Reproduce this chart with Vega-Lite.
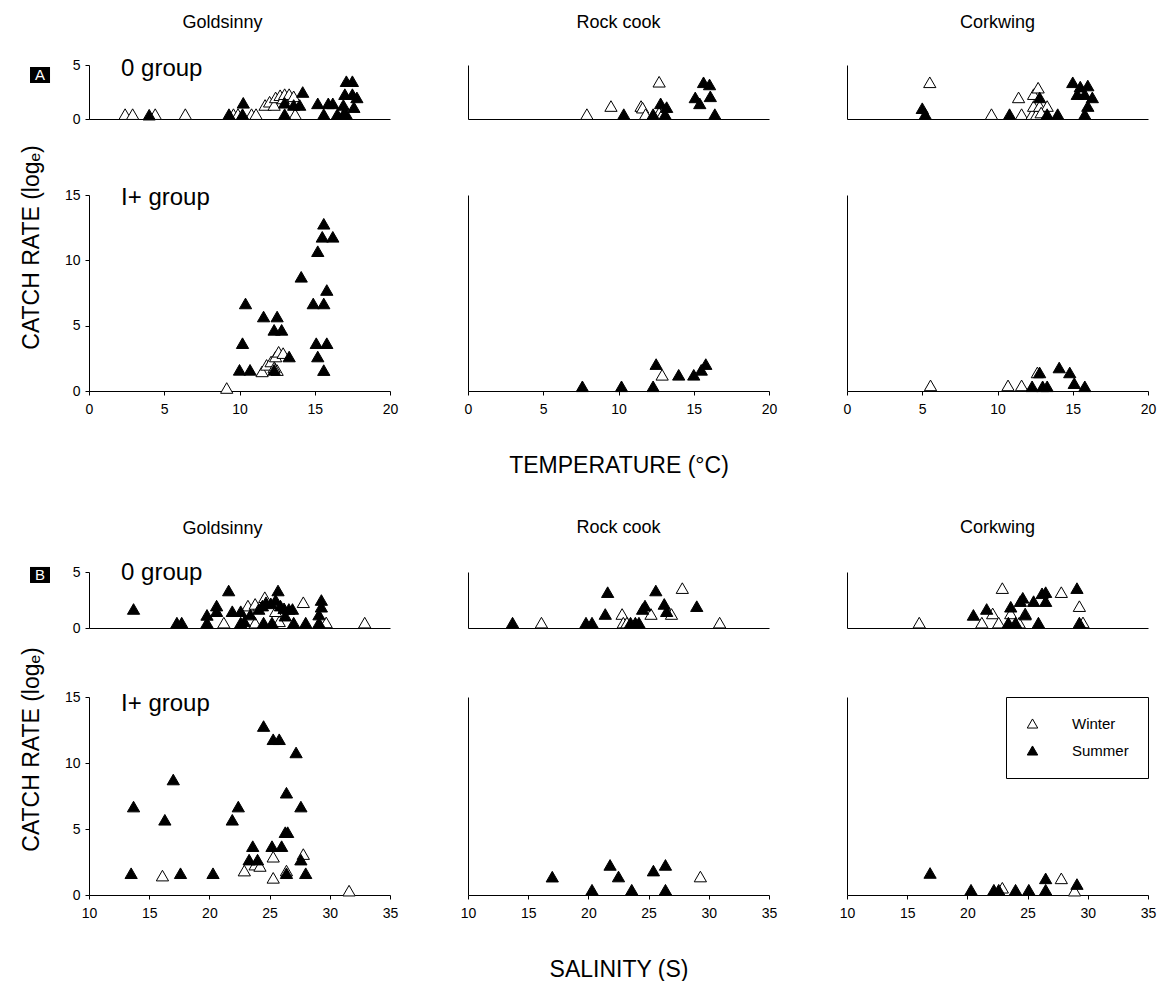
{
  "$schema": "https://vega.github.io/schema/vega-lite/v6.json",
  "background": "white",
  "padding": {"left": 20, "top": 14, "right": 10, "bottom": 0},
  "config": {
    "font": "Liberation Sans",
    "view": {"stroke": null},
    "axis": {"grid": false, "domainColor": "black", "domainWidth": 1, "tickColor": "black", "tickSize": 4, "labelColor": "black", "labelFontSize": 14, "labelFont": "Liberation Sans", "labelPadding": 5, "titleFont": "Liberation Sans", "titleFontWeight": "normal", "titleColor": "black", "titleFontSize": 23},
    "axisX": {"labelPadding": 7, "labelFlush": false},
    "title": {"fontSize": 18, "fontWeight": "normal", "font": "Liberation Sans", "color": "black", "frame": "group", "anchor": "middle"},
    "point": {"shape": "triangle-up", "size": 150, "filled": true, "opacity": 1, "stroke": "black", "strokeWidth": 1},
    "text": {"font": "Liberation Sans", "color": "black"}
  },
  "datasets": {
    "a0g": [
      {"season":"Winter","env":2.4,"rate":0.45},{"season":"Winter","env":2.9,"rate":0.45},{"season":"Winter","env":4.4,"rate":0.45},{"season":"Winter","env":6.4,"rate":0.45},{"season":"Winter","env":9.6,"rate":0.45},{"season":"Winter","env":9.9,"rate":0.45},{"season":"Winter","env":10.8,"rate":0.45},{"season":"Winter","env":11.1,"rate":0.45},{"season":"Winter","env":11.7,"rate":1.3},{"season":"Winter","env":12.0,"rate":1.6},{"season":"Winter","env":12.3,"rate":1.3},{"season":"Winter","env":12.4,"rate":2.0},{"season":"Winter","env":12.7,"rate":2.2},{"season":"Winter","env":12.9,"rate":1.9},{"season":"Winter","env":13.0,"rate":2.3},{"season":"Winter","env":13.3,"rate":2.3},{"season":"Winter","env":13.6,"rate":2.1},{"season":"Winter","env":13.7,"rate":0.45},
      {"season":"Summer","env":4.0,"rate":0.4},{"season":"Summer","env":9.3,"rate":0.45},{"season":"Summer","env":10.2,"rate":0.45},{"season":"Summer","env":10.25,"rate":1.5},{"season":"Summer","env":13.0,"rate":1.5},{"season":"Summer","env":13.0,"rate":0.45},{"season":"Summer","env":13.6,"rate":1.3},{"season":"Summer","env":14.0,"rate":1.3},{"season":"Summer","env":14.2,"rate":2.5},{"season":"Summer","env":15.2,"rate":1.45},{"season":"Summer","env":15.6,"rate":0.45},{"season":"Summer","env":15.9,"rate":1.45},{"season":"Summer","env":16.2,"rate":1.45},{"season":"Summer","env":16.5,"rate":0.45},{"season":"Summer","env":16.9,"rate":0.45},{"season":"Summer","env":16.9,"rate":1.3},{"season":"Summer","env":17.0,"rate":2.3},{"season":"Summer","env":17.1,"rate":0.45},{"season":"Summer","env":17.1,"rate":3.5},{"season":"Summer","env":17.5,"rate":3.5},{"season":"Summer","env":17.5,"rate":2.3},{"season":"Summer","env":17.6,"rate":1.1},{"season":"Summer","env":17.8,"rate":2.0}
    ],
    "a0r": [
      {"season":"Winter","env":7.9,"rate":0.45},{"season":"Winter","env":9.5,"rate":1.2},{"season":"Winter","env":11.5,"rate":1.2},{"season":"Winter","env":11.6,"rate":1.05},{"season":"Winter","env":11.8,"rate":0.45},{"season":"Winter","env":12.7,"rate":3.45},{"season":"Winter","env":12.7,"rate":0.6},{"season":"Winter","env":12.9,"rate":0.45},
      {"season":"Summer","env":10.35,"rate":0.45},{"season":"Summer","env":12.3,"rate":0.45},{"season":"Summer","env":12.8,"rate":1.45},{"season":"Summer","env":13.2,"rate":1.1},{"season":"Summer","env":13.1,"rate":0.45},{"season":"Summer","env":15.65,"rate":3.4},{"season":"Summer","env":16.05,"rate":3.2},{"season":"Summer","env":15.1,"rate":2.0},{"season":"Summer","env":16.1,"rate":2.1},{"season":"Summer","env":15.4,"rate":1.45},{"season":"Summer","env":16.4,"rate":0.45}
    ],
    "a0c": [
      {"season":"Winter","env":5.5,"rate":3.4},{"season":"Winter","env":9.6,"rate":0.45},{"season":"Winter","env":11.4,"rate":2.0},{"season":"Winter","env":11.6,"rate":0.45},{"season":"Winter","env":12.3,"rate":0.45},{"season":"Winter","env":12.6,"rate":0.45},{"season":"Winter","env":12.4,"rate":2.3},{"season":"Winter","env":12.7,"rate":2.9},{"season":"Winter","env":12.4,"rate":1.2},{"season":"Winter","env":12.8,"rate":1.2},{"season":"Winter","env":13.3,"rate":1.2},{"season":"Winter","env":12.9,"rate":0.6},
      {"season":"Summer","env":5.0,"rate":1.0},{"season":"Summer","env":5.2,"rate":0.45},{"season":"Summer","env":10.8,"rate":0.45},{"season":"Summer","env":12.8,"rate":2.0},{"season":"Summer","env":13.3,"rate":0.45},{"season":"Summer","env":14.0,"rate":0.45},{"season":"Summer","env":15.0,"rate":3.4},{"season":"Summer","env":15.5,"rate":3.0},{"season":"Summer","env":16.0,"rate":3.1},{"season":"Summer","env":15.3,"rate":2.3},{"season":"Summer","env":15.8,"rate":2.3},{"season":"Summer","env":16.3,"rate":2.0},{"season":"Summer","env":16.0,"rate":1.2},{"season":"Summer","env":15.8,"rate":0.45}
    ],
    "aig": [
      {"season":"Winter","env":9.15,"rate":0.23},{"season":"Winter","env":11.5,"rate":1.5},{"season":"Winter","env":11.8,"rate":2.0},{"season":"Winter","env":12.1,"rate":2.26},{"season":"Winter","env":12.4,"rate":2.64},{"season":"Winter","env":12.6,"rate":3.0},{"season":"Winter","env":12.9,"rate":2.9},{"season":"Winter","env":12.5,"rate":1.6},{"season":"Winter","env":12.3,"rate":1.8},
      {"season":"Summer","env":10.0,"rate":1.62},{"season":"Summer","env":10.7,"rate":1.62},{"season":"Summer","env":10.2,"rate":3.66},{"season":"Summer","env":10.4,"rate":6.7},{"season":"Summer","env":11.6,"rate":5.7},{"season":"Summer","env":12.5,"rate":5.7},{"season":"Summer","env":12.3,"rate":4.68},{"season":"Summer","env":12.8,"rate":4.68},{"season":"Summer","env":12.3,"rate":1.62},{"season":"Summer","env":13.3,"rate":2.64},{"season":"Summer","env":14.1,"rate":8.74},{"season":"Summer","env":14.9,"rate":6.7},{"season":"Summer","env":15.6,"rate":6.7},{"season":"Summer","env":15.8,"rate":7.73},{"season":"Summer","env":15.1,"rate":3.66},{"season":"Summer","env":15.8,"rate":3.66},{"season":"Summer","env":15.2,"rate":2.64},{"season":"Summer","env":15.6,"rate":1.6},{"season":"Summer","env":15.2,"rate":10.7},{"season":"Summer","env":15.5,"rate":11.8},{"season":"Summer","env":16.2,"rate":11.8},{"season":"Summer","env":15.6,"rate":12.8}
    ],
    "air": [
      {"season":"Winter","env":12.9,"rate":1.24},
      {"season":"Summer","env":7.6,"rate":0.36},{"season":"Summer","env":10.2,"rate":0.36},{"season":"Summer","env":12.3,"rate":0.36},{"season":"Summer","env":12.5,"rate":2.06},{"season":"Summer","env":14.0,"rate":1.24},{"season":"Summer","env":15.0,"rate":1.24},{"season":"Summer","env":15.5,"rate":1.62},{"season":"Summer","env":15.8,"rate":2.06}
    ],
    "aic": [
      {"season":"Winter","env":5.55,"rate":0.43},{"season":"Winter","env":10.7,"rate":0.43},{"season":"Winter","env":11.6,"rate":0.43},{"season":"Winter","env":12.65,"rate":1.42},
      {"season":"Summer","env":12.3,"rate":0.36},{"season":"Summer","env":13.0,"rate":0.36},{"season":"Summer","env":13.3,"rate":0.36},{"season":"Summer","env":12.8,"rate":1.42},{"season":"Summer","env":14.1,"rate":1.8},{"season":"Summer","env":14.8,"rate":1.42},{"season":"Summer","env":15.1,"rate":0.6},{"season":"Summer","env":15.8,"rate":0.36}
    ],
    "b0g": [
      {"season":"Winter","env":21.2,"rate":0.48},{"season":"Winter","env":23.2,"rate":2.0},{"season":"Winter","env":23.8,"rate":2.15},{"season":"Winter","env":24.6,"rate":2.75},{"season":"Winter","env":25.5,"rate":1.5},{"season":"Winter","env":25.8,"rate":0.6},{"season":"Winter","env":23.8,"rate":0.48},{"season":"Winter","env":27.8,"rate":2.3},{"season":"Winter","env":29.7,"rate":0.5},{"season":"Winter","env":32.9,"rate":0.48},
      {"season":"Summer","env":13.7,"rate":1.7},{"season":"Summer","env":17.3,"rate":0.48},{"season":"Summer","env":17.7,"rate":0.48},{"season":"Summer","env":19.8,"rate":0.48},{"season":"Summer","env":19.8,"rate":1.17},{"season":"Summer","env":20.6,"rate":2.0},{"season":"Summer","env":20.6,"rate":1.5},{"season":"Summer","env":21.6,"rate":3.35},{"season":"Summer","env":21.9,"rate":1.5},{"season":"Summer","env":22.6,"rate":1.5},{"season":"Summer","env":22.6,"rate":0.48},{"season":"Summer","env":22.9,"rate":0.6},{"season":"Summer","env":23.4,"rate":1.2},{"season":"Summer","env":24.1,"rate":1.7},{"season":"Summer","env":24.4,"rate":2.0},{"season":"Summer","env":24.7,"rate":2.3},{"season":"Summer","env":25.1,"rate":2.2},{"season":"Summer","env":25.5,"rate":2.5},{"season":"Summer","env":25.7,"rate":3.35},{"season":"Summer","env":25.9,"rate":2.0},{"season":"Summer","env":26.2,"rate":1.76},{"season":"Summer","env":26.6,"rate":1.7},{"season":"Summer","env":26.9,"rate":1.7},{"season":"Summer","env":24.5,"rate":0.48},{"season":"Summer","env":25.2,"rate":0.48},{"season":"Summer","env":26.3,"rate":1.1},{"season":"Summer","env":27.0,"rate":0.48},{"season":"Summer","env":28.0,"rate":0.48},{"season":"Summer","env":29.3,"rate":2.5},{"season":"Summer","env":29.3,"rate":1.9},{"season":"Summer","env":29.1,"rate":1.2},{"season":"Summer","env":29.1,"rate":0.48}
    ],
    "b0r": [
      {"season":"Winter","env":16.1,"rate":0.48},{"season":"Winter","env":22.8,"rate":1.25},{"season":"Winter","env":22.9,"rate":0.48},{"season":"Winter","env":23.2,"rate":0.48},{"season":"Winter","env":25.2,"rate":1.25},{"season":"Winter","env":26.9,"rate":1.25},{"season":"Winter","env":27.8,"rate":3.56},{"season":"Winter","env":30.9,"rate":0.48},
      {"season":"Summer","env":13.7,"rate":0.48},{"season":"Summer","env":19.8,"rate":0.48},{"season":"Summer","env":20.3,"rate":0.48},{"season":"Summer","env":21.4,"rate":1.25},{"season":"Summer","env":21.6,"rate":3.2},{"season":"Summer","env":23.5,"rate":0.48},{"season":"Summer","env":23.9,"rate":0.48},{"season":"Summer","env":24.2,"rate":0.48},{"season":"Summer","env":24.5,"rate":1.7},{"season":"Summer","env":24.7,"rate":2.0},{"season":"Summer","env":25.6,"rate":3.35},{"season":"Summer","env":26.3,"rate":2.15},{"season":"Summer","env":26.5,"rate":1.5},{"season":"Summer","env":29.0,"rate":1.95}
    ],
    "b0c": [
      {"season":"Winter","env":16.0,"rate":0.48},{"season":"Winter","env":22.9,"rate":3.56},{"season":"Winter","env":21.2,"rate":0.48},{"season":"Winter","env":22.1,"rate":1.3},{"season":"Winter","env":22.6,"rate":0.48},{"season":"Winter","env":23.6,"rate":1.3},{"season":"Winter","env":24.8,"rate":1.3},{"season":"Winter","env":24.3,"rate":0.48},{"season":"Winter","env":27.8,"rate":3.2},{"season":"Winter","env":29.3,"rate":1.95},{"season":"Winter","env":29.6,"rate":0.5},
      {"season":"Summer","env":20.5,"rate":1.17},{"season":"Summer","env":21.6,"rate":1.7},{"season":"Summer","env":23.6,"rate":1.9},{"season":"Summer","env":24.4,"rate":2.4},{"season":"Summer","env":24.6,"rate":2.7},{"season":"Summer","env":25.5,"rate":2.4},{"season":"Summer","env":26.2,"rate":3.1},{"season":"Summer","env":26.5,"rate":3.2},{"season":"Summer","env":26.5,"rate":2.4},{"season":"Summer","env":24.8,"rate":1.2},{"season":"Summer","env":23.4,"rate":0.48},{"season":"Summer","env":24.0,"rate":0.48},{"season":"Summer","env":25.9,"rate":0.48},{"season":"Summer","env":29.1,"rate":3.56},{"season":"Summer","env":29.3,"rate":0.48}
    ],
    "big": [
      {"season":"Winter","env":16.1,"rate":1.47},{"season":"Winter","env":22.9,"rate":1.85},{"season":"Winter","env":23.8,"rate":2.3},{"season":"Winter","env":24.2,"rate":2.2},{"season":"Winter","env":25.3,"rate":2.9},{"season":"Winter","env":25.3,"rate":1.3},{"season":"Winter","env":26.4,"rate":1.85},{"season":"Winter","env":27.8,"rate":3.1},{"season":"Winter","env":31.6,"rate":0.33},
      {"season":"Summer","env":13.5,"rate":1.65},{"season":"Summer","env":13.7,"rate":6.7},{"season":"Summer","env":16.3,"rate":5.7},{"season":"Summer","env":17.0,"rate":8.75},{"season":"Summer","env":17.6,"rate":1.65},{"season":"Summer","env":20.3,"rate":1.65},{"season":"Summer","env":21.9,"rate":5.7},{"season":"Summer","env":22.4,"rate":6.7},{"season":"Summer","env":23.6,"rate":3.7},{"season":"Summer","env":23.3,"rate":2.68},{"season":"Summer","env":24.0,"rate":2.68},{"season":"Summer","env":24.5,"rate":12.8},{"season":"Summer","env":25.3,"rate":11.8},{"season":"Summer","env":25.8,"rate":11.8},{"season":"Summer","env":25.2,"rate":3.7},{"season":"Summer","env":26.0,"rate":3.7},{"season":"Summer","env":26.3,"rate":4.76},{"season":"Summer","env":26.5,"rate":4.76},{"season":"Summer","env":26.4,"rate":7.75},{"season":"Summer","env":26.4,"rate":1.65},{"season":"Summer","env":27.2,"rate":10.8},{"season":"Summer","env":27.6,"rate":6.7},{"season":"Summer","env":27.6,"rate":2.68},{"season":"Summer","env":28.0,"rate":1.65}
    ],
    "bir": [
      {"season":"Winter","env":29.3,"rate":1.4},
      {"season":"Summer","env":17.0,"rate":1.39},{"season":"Summer","env":20.3,"rate":0.4},{"season":"Summer","env":21.8,"rate":2.28},{"season":"Summer","env":22.5,"rate":1.4},{"season":"Summer","env":23.6,"rate":0.4},{"season":"Summer","env":25.4,"rate":1.85},{"season":"Summer","env":26.4,"rate":2.28},{"season":"Summer","env":26.4,"rate":0.4}
    ],
    "bic": [
      {"season":"Winter","env":22.9,"rate":0.55},{"season":"Winter","env":27.8,"rate":1.26},{"season":"Winter","env":28.9,"rate":0.33},
      {"season":"Summer","env":16.9,"rate":1.67},{"season":"Summer","env":20.3,"rate":0.4},{"season":"Summer","env":22.2,"rate":0.4},{"season":"Summer","env":22.6,"rate":0.4},{"season":"Summer","env":24.0,"rate":0.4},{"season":"Summer","env":25.1,"rate":0.4},{"season":"Summer","env":26.5,"rate":1.26},{"season":"Summer","env":26.5,"rate":0.4},{"season":"Summer","env":29.1,"rate":0.83}
    ]
  },
  "spacing": 42,
  "resolve": {"scale": {"fill": "independent"}, "legend": {"fill": "independent"}},
  "vconcat": [
    {
      "spacing": 18,
      "resolve": {"scale": {"fill": "independent"}, "legend": {"fill": "independent"}},
      "vconcat": [
        {
          "bounds": "flush",
          "spacing": 78,
          "resolve": {"scale": {"fill": "independent"}, "legend": {"fill": "independent"}},
          "hconcat": [
            {
              "width": 301, "height": 54,
              "title": {"text": "Goldsinny", "offset": 25, "dx": -17, "frame": "group"},
              "layer": [
                {"data": {"name": "a0g"}, "mark": "point", "encoding": {
                  "x": {"field": "env", "type": "quantitative", "scale": {"domain": [0, 20], "nice": false, "zero": false}, "axis": {"ticks": false, "labels": false, "title": null}},
                  "y": {"field": "rate", "type": "quantitative", "scale": {"domain": [0, 5], "nice": false, "zero": false}, "axis": {"values": [0, 5], "title": null}},
                  "fill": {"field": "season", "type": "nominal", "scale": {"domain": ["Winter", "Summer"], "range": ["white", "black"]}, "legend": null}}},
                {"data": {"values": [{}]}, "mark": {"type": "text", "text": "0 group", "align": "left", "baseline": "middle", "fontSize": 24}, "encoding": {
                  "x": {"datum": 2.13, "type": "quantitative", "scale": {"domain": [0, 20]}},
                  "y": {"datum": 4.6, "type": "quantitative", "scale": {"domain": [0, 5]}}}},
                {"data": {"values": [{}]}, "mark": {"type": "rect", "color": "black"}, "encoding": {
                  "x": {"datum": -3.92, "type": "quantitative", "scale": {"domain": [0, 20]}},
                  "x2": {"datum": -2.59},
                  "y": {"datum": 4.81, "type": "quantitative", "scale": {"domain": [0, 5]}},
                  "y2": {"datum": 3.33}}},
                {"data": {"values": [{}]}, "mark": {"type": "text", "text": "A", "color": "white", "fontSize": 15, "align": "center", "baseline": "middle"}, "encoding": {
                  "x": {"datum": -3.26, "type": "quantitative", "scale": {"domain": [0, 20]}},
                  "y": {"datum": 4.07, "type": "quantitative", "scale": {"domain": [0, 5]}}}}
              ]
            },
            {
              "width": 301, "height": 54,
              "title": {"text": "Rock cook", "offset": 33, "frame": "group"},
              "data": {"name": "a0r"}, "mark": "point", "encoding": {
                "x": {"field": "env", "type": "quantitative", "scale": {"domain": [0, 20], "nice": false, "zero": false}, "axis": {"ticks": false, "labels": false, "title": null}},
                "y": {"field": "rate", "type": "quantitative", "scale": {"domain": [0, 5], "nice": false, "zero": false}, "axis": {"ticks": false, "labels": false, "title": null}},
                "fill": {"field": "season", "type": "nominal", "scale": {"domain": ["Winter", "Summer"], "range": ["white", "black"]}, "legend": null}}
            },
            {
              "width": 301, "height": 54,
              "title": {"text": "Corkwing", "offset": 33, "frame": "group"},
              "data": {"name": "a0c"}, "mark": "point", "encoding": {
                "x": {"field": "env", "type": "quantitative", "scale": {"domain": [0, 20], "nice": false, "zero": false}, "axis": {"ticks": false, "labels": false, "title": null}},
                "y": {"field": "rate", "type": "quantitative", "scale": {"domain": [0, 5], "nice": false, "zero": false}, "axis": {"ticks": false, "labels": false, "title": null}},
                "fill": {"field": "season", "type": "nominal", "scale": {"domain": ["Winter", "Summer"], "range": ["white", "black"]}, "legend": null}}
            }
          ]
        },
        {
          "bounds": "flush",
          "spacing": 78,
          "resolve": {"scale": {"fill": "independent"}, "legend": {"fill": "independent"}},
          "hconcat": [
            {
              "width": 301, "height": 196,
              "layer": [
                {"data": {"name": "aig"}, "mark": "point", "encoding": {
                  "x": {"field": "env", "type": "quantitative", "scale": {"domain": [0, 20], "nice": false, "zero": false}, "axis": {"values": [0, 5, 10, 15, 20], "title": null}},
                  "y": {"field": "rate", "type": "quantitative", "scale": {"domain": [0, 15], "nice": false, "zero": false}, "axis": {"values": [0, 5, 10, 15], "title": "CATCH RATE (logₑ)", "titleX": -58, "titleY": 52, "titleAngle": 270, "titleBaseline": "middle", "titleAlign": "center"}},
                  "fill": {"field": "season", "type": "nominal", "scale": {"domain": ["Winter", "Summer"], "range": ["white", "black"]}, "legend": null}}},
                {"data": {"values": [{}]}, "mark": {"type": "text", "text": "I+ group", "align": "left", "baseline": "middle", "fontSize": 24}, "encoding": {
                  "x": {"datum": 2.13, "type": "quantitative", "scale": {"domain": [0, 20]}},
                  "y": {"datum": 14.8, "type": "quantitative", "scale": {"domain": [0, 15]}}}}
              ]
            },
            {
              "width": 301, "height": 196,
              "data": {"name": "air"}, "mark": "point", "encoding": {
                "x": {"field": "env", "type": "quantitative", "scale": {"domain": [0, 20], "nice": false, "zero": false}, "axis": {"values": [0, 5, 10, 15, 20], "title": "TEMPERATURE (°C)", "titleX": 150.5, "titleY": 74, "titleBaseline": "middle", "titleAlign": "center", "titleAngle": 0}},
                "y": {"field": "rate", "type": "quantitative", "scale": {"domain": [0, 15], "nice": false, "zero": false}, "axis": {"ticks": false, "labels": false, "title": null}},
                "fill": {"field": "season", "type": "nominal", "scale": {"domain": ["Winter", "Summer"], "range": ["white", "black"]}, "legend": null}}
            },
            {
              "width": 301, "height": 196,
              "data": {"name": "aic"}, "mark": "point", "encoding": {
                "x": {"field": "env", "type": "quantitative", "scale": {"domain": [0, 20], "nice": false, "zero": false}, "axis": {"values": [0, 5, 10, 15, 20], "title": null}},
                "y": {"field": "rate", "type": "quantitative", "scale": {"domain": [0, 15], "nice": false, "zero": false}, "axis": {"ticks": false, "labels": false, "title": null}},
                "fill": {"field": "season", "type": "nominal", "scale": {"domain": ["Winter", "Summer"], "range": ["white", "black"]}, "legend": null}}
            }
          ]
        }
      ]
    },
    {
      "spacing": 11,
      "resolve": {"scale": {"fill": "independent"}, "legend": {"fill": "independent"}},
      "vconcat": [
        {
          "bounds": "flush",
          "spacing": 78,
          "resolve": {"scale": {"fill": "independent"}, "legend": {"fill": "independent"}},
          "hconcat": [
            {
              "width": 301, "height": 56,
              "title": {"text": "Goldsinny", "offset": 23, "dx": -17, "frame": "group"},
              "layer": [
                {"data": {"name": "b0g"}, "mark": "point", "encoding": {
                  "x": {"field": "env", "type": "quantitative", "scale": {"domain": [10, 35], "nice": false, "zero": false}, "axis": {"ticks": false, "labels": false, "title": null}},
                  "y": {"field": "rate", "type": "quantitative", "scale": {"domain": [0, 5], "nice": false, "zero": false}, "axis": {"values": [0, 5], "title": null}},
                  "fill": {"field": "season", "type": "nominal", "scale": {"domain": ["Winter", "Summer"], "range": ["white", "black"]}, "legend": null}}},
                {"data": {"values": [{}]}, "mark": {"type": "text", "text": "0 group", "align": "left", "baseline": "middle", "fontSize": 24}, "encoding": {
                  "x": {"datum": 12.66, "type": "quantitative", "scale": {"domain": [10, 35]}},
                  "y": {"datum": 4.9, "type": "quantitative", "scale": {"domain": [0, 5]}}}},
                {"data": {"values": [{}]}, "mark": {"type": "rect", "color": "black"}, "encoding": {
                  "x": {"datum": 5.1, "type": "quantitative", "scale": {"domain": [10, 35]}},
                  "x2": {"datum": 6.76},
                  "y": {"datum": 5.45, "type": "quantitative", "scale": {"domain": [0, 5]}},
                  "y2": {"datum": 4.02}}},
                {"data": {"values": [{}]}, "mark": {"type": "text", "text": "B", "color": "white", "fontSize": 15, "align": "center", "baseline": "middle"}, "encoding": {
                  "x": {"datum": 5.93, "type": "quantitative", "scale": {"domain": [10, 35]}},
                  "y": {"datum": 4.73, "type": "quantitative", "scale": {"domain": [0, 5]}}}}
              ]
            },
            {
              "width": 301, "height": 56,
              "title": {"text": "Rock cook", "offset": 35, "frame": "group"},
              "data": {"name": "b0r"}, "mark": "point", "encoding": {
                "x": {"field": "env", "type": "quantitative", "scale": {"domain": [10, 35], "nice": false, "zero": false}, "axis": {"ticks": false, "labels": false, "title": null}},
                "y": {"field": "rate", "type": "quantitative", "scale": {"domain": [0, 5], "nice": false, "zero": false}, "axis": {"ticks": false, "labels": false, "title": null}},
                "fill": {"field": "season", "type": "nominal", "scale": {"domain": ["Winter", "Summer"], "range": ["white", "black"]}, "legend": null}}
            },
            {
              "width": 301, "height": 56,
              "title": {"text": "Corkwing", "offset": 35, "frame": "group"},
              "data": {"name": "b0c"}, "mark": "point", "encoding": {
                "x": {"field": "env", "type": "quantitative", "scale": {"domain": [10, 35], "nice": false, "zero": false}, "axis": {"ticks": false, "labels": false, "title": null}},
                "y": {"field": "rate", "type": "quantitative", "scale": {"domain": [0, 5], "nice": false, "zero": false}, "axis": {"ticks": false, "labels": false, "title": null}},
                "fill": {"field": "season", "type": "nominal", "scale": {"domain": ["Winter", "Summer"], "range": ["white", "black"]}, "legend": null}}
            }
          ]
        },
        {
          "bounds": "flush",
          "spacing": 78,
          "resolve": {"scale": {"fill": "independent"}, "legend": {"fill": "independent"}},
          "hconcat": [
            {
              "width": 301, "height": 198,
              "layer": [
                {"data": {"name": "big"}, "mark": "point", "encoding": {
                  "x": {"field": "env", "type": "quantitative", "scale": {"domain": [10, 35], "nice": false, "zero": false}, "axis": {"values": [10, 15, 20, 25, 30, 35], "title": null}},
                  "y": {"field": "rate", "type": "quantitative", "scale": {"domain": [0, 15], "nice": false, "zero": false}, "axis": {"values": [0, 5, 10, 15], "title": "CATCH RATE (logₑ)", "titleX": -58, "titleY": 52, "titleAngle": 270, "titleBaseline": "middle", "titleAlign": "center"}},
                  "fill": {"field": "season", "type": "nominal", "scale": {"domain": ["Winter", "Summer"], "range": ["white", "black"]}, "legend": null}}},
                {"data": {"values": [{}]}, "mark": {"type": "text", "text": "I+ group", "align": "left", "baseline": "middle", "fontSize": 24}, "encoding": {
                  "x": {"datum": 12.66, "type": "quantitative", "scale": {"domain": [10, 35]}},
                  "y": {"datum": 14.5, "type": "quantitative", "scale": {"domain": [0, 15]}}}}
              ]
            },
            {
              "width": 301, "height": 198,
              "data": {"name": "bir"}, "mark": "point", "encoding": {
                "x": {"field": "env", "type": "quantitative", "scale": {"domain": [10, 35], "nice": false, "zero": false}, "axis": {"values": [10, 15, 20, 25, 30, 35], "title": "SALINITY (S)", "titleX": 150.5, "titleY": 74, "titleBaseline": "middle", "titleAlign": "center", "titleAngle": 0}},
                "y": {"field": "rate", "type": "quantitative", "scale": {"domain": [0, 15], "nice": false, "zero": false}, "axis": {"ticks": false, "labels": false, "title": null}},
                "fill": {"field": "season", "type": "nominal", "scale": {"domain": ["Winter", "Summer"], "range": ["white", "black"]}, "legend": null}}
            },
            {
              "width": 301, "height": 198,
              "data": {"name": "bic"}, "mark": "point", "encoding": {
                "x": {"field": "env", "type": "quantitative", "scale": {"domain": [10, 35], "nice": false, "zero": false}, "axis": {"values": [10, 15, 20, 25, 30, 35], "title": null}},
                "y": {"field": "rate", "type": "quantitative", "scale": {"domain": [0, 15], "nice": false, "zero": false}, "axis": {"ticks": false, "labels": false, "title": null}},
                "fill": {"field": "season", "type": "nominal", "scale": {"domain": ["Winter", "Summer"], "range": ["white", "black"]}, "legend": {"orient": "top-right", "offset": 0, "title": null, "strokeColor": "black", "fillColor": "white", "padding": 19, "labelFontSize": 15, "labelFont": "Liberation Sans", "labelColor": "black", "labelOffset": 32, "rowPadding": 11, "symbolType": "triangle-up", "symbolSize": 110, "symbolStrokeColor": "black", "symbolStrokeWidth": 1}}}
            }
          ]
        }
      ]
    }
  ]
}
